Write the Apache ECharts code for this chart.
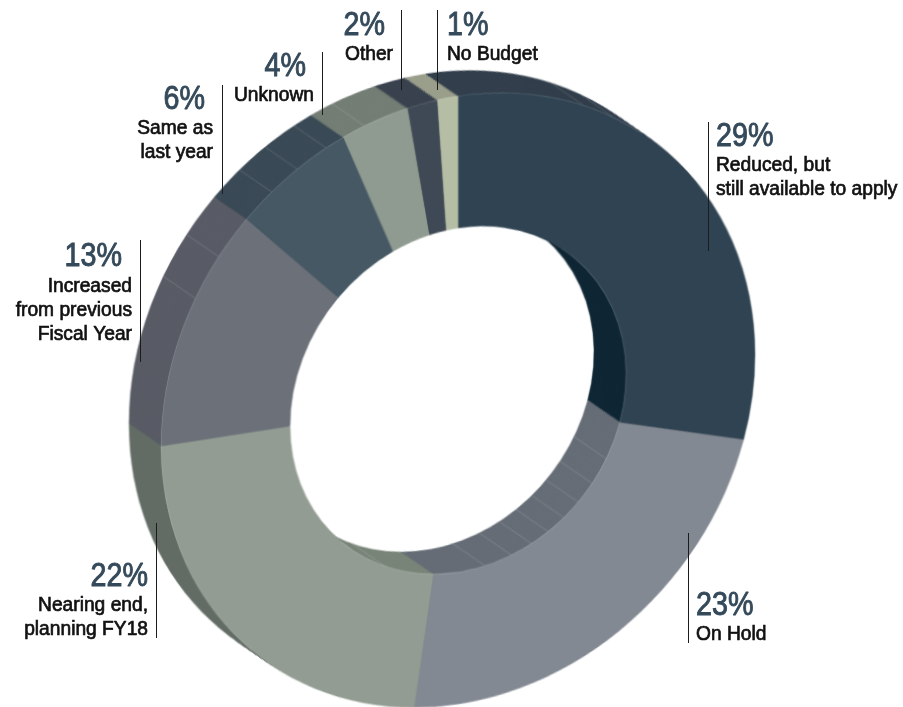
<!DOCTYPE html>
<html><head><meta charset="utf-8">
<style>html,body{margin:0;padding:0;background:#fff;overflow:hidden;width:903px;height:707px}
#ring,#labels{position:absolute;left:0;top:0;width:903px;height:707px}
#ring{transform-origin:0 0}</style>
<script src="https://cdn.jsdelivr.net/npm/echarts@6/dist/echarts.min.js"></script>
</head><body><div id="ring"></div><div id="labels"></div>
<script>
// Printed percentages and category names
const categories = ['Reduced, but\nstill available to apply','On Hold','Nearing end,\nplanning FY18','Increased\nfrom previous\nFiscal Year','Same as\nlast year','Unknown','Other','No Budget'];
const percentLabels = ['29%','23%','22%','13%','6%','4%','2%','1%'];
// Slice shares as drawn in the picture, in percent of the ring
const sliceShares = [29.4,22.9,22.6,12.4,6.3,3.6,1.6,1.1];
// Colours
const faceColors = ['#304352','#838993','#929c92','#6b7079','#455864','#8f9a90','#3f4955','#b5bea5'];
const outerWallColors = ['#333f4c','#5f666f','#636d66','#595c65','#3a4a56','#747e75','#39424e','#9a9f8c'];
const innerWallColors = ['#0f2735','#666d76','#7a8579','#595c65','#3a4a56','#747e75','#39424e','#9a9f8c'];
// Facet seams on the extruded walls (clockwise degrees from 12 o'clock)
const outerSeams = [24.9,31.5,297.8,306.3,321.1,327.2,333.6,341.6];
const innerSeams = [118.2,127.1,134.4,141,147.6,154.1,161.5,170.8,205.9];

// The ring is a tilted circle: a shear and stretch of the canvas holding the pies
const K = -0.153, M = 1.024;
const CX = 458, CY = 400, R = 297, RI = 168, LAYERS = 18;
const DX = -32, DY = (-22 - K*DX)/M;
document.getElementById('ring').style.transform = `matrix(1,${K},0,${M},0,${CY - K*CX - M*CY})`;

function sliceData(colors){
  return sliceShares.map((v,i)=>({value:v,name:percentLabels[i],itemStyle:{color:colors[i],borderColor:colors[i],borderWidth:0.4}}));
}
function ring(center,radius,colors,z){
  return {type:'pie',z,silent:true,animation:false,center,radius,startAngle:90,clockwise:true,
    label:{show:false},labelLine:{show:false},emphasis:{disabled:true},data:sliceData(colors)};
}
const series = [];
for(let k=LAYERS;k>=1;k--){
  const c=[CX+DX*k/LAYERS,CY+DY*k/LAYERS];
  series.push(ring(c,[RI,(R+RI)/2],innerWallColors,1));
  series.push(ring(c,[(R+RI)/2,R],outerWallColors,1));
}
const seamData = outerSeams.map(a=>[a,R]).concat(innerSeams.map(a=>[a,RI]));
series.push({type:'custom',z:2,coordinateSystem:'none',silent:true,animation:false,data:seamData,
  renderItem:(p,api)=>{
    const a=api.value(0)*Math.PI/180,r=api.value(1);
    const x=CX+r*Math.sin(a),y=CY-r*Math.cos(a);
    return {type:'line',shape:{x1:x,y1:y,x2:x+DX,y2:y+DY},style:{stroke:'rgba(255,255,255,0.25)',lineWidth:0.6}};
  }});
series.push(ring([CX,CY],[RI,R],faceColors,3));
// faint highlight along the edge where the face meets a wall
function rim(radius,startAngle,on){
  return {type:'pie',z:4,silent:true,animation:false,center:[CX,CY],radius,startAngle,clockwise:true,label:{show:false},labelLine:{show:false},emphasis:{disabled:true},
    data:[{value:on,itemStyle:{color:'rgba(255,255,255,0.22)'}},{value:360-on,itemStyle:{color:'rgba(0,0,0,0)'}}]};
}
series.push(rim([R-0.6,R],226,174));
series.push(rim([RI,RI+0.6],52,186));
echarts.init(document.getElementById('ring'),null,{renderer:'canvas',width:903,height:707})
  .setOption({animation:false,series});

// label layout: [line x, line y1, line y2, pct anchor x, pct baseline, text anchor x, first text baseline, align]
const layout = [
 [708.5,122,251,716,149,716,172,'left'],
 [688.5,533,643,696,618,696,641,'left'],
 [156.5,523,638,148,589,148,612,'right'],
 [140.5,240,362,122,269,132,293,'right'],
 [222.5,85,194,205,112,213,135,'right'],
 [322.5,52,115,306,79,314,102,'right'],
 [401.5,10,90,385,38,393,61,'right'],
 [437.5,10,90,447,38,447,61,'left']
];
const FONT = '"Liberation Sans",Arial,sans-serif';
const graphic=[];
layout.forEach((l,i)=>{
  graphic.push({type:'line',silent:true,shape:{x1:l[0],y1:l[1],x2:l[0],y2:l[2]},style:{stroke:'#1c1c1c',lineWidth:1}});
  graphic.push({type:'text',silent:true,x:l[3],y:l[4]-12,scaleX:0.87,style:{text:percentLabels[i],fill:'#34495a',font:'normal 33px '+FONT,textAlign:l[7],textVerticalAlign:'middle',stroke:'#34495a',lineWidth:0.9}});
  categories[i].split('\n').forEach((t,j)=>{
    graphic.push({type:'text',silent:true,x:l[5],y:l[6]+j*24-7,scaleX:0.96,style:{text:t,fill:'#111',font:'normal 20px '+FONT,textAlign:l[7],textVerticalAlign:'middle',stroke:'#111',lineWidth:0.7}});
  });
});
echarts.init(document.getElementById('labels'),null,{renderer:'canvas',width:903,height:707})
  .setOption({animation:false,graphic});
</script></body></html>
